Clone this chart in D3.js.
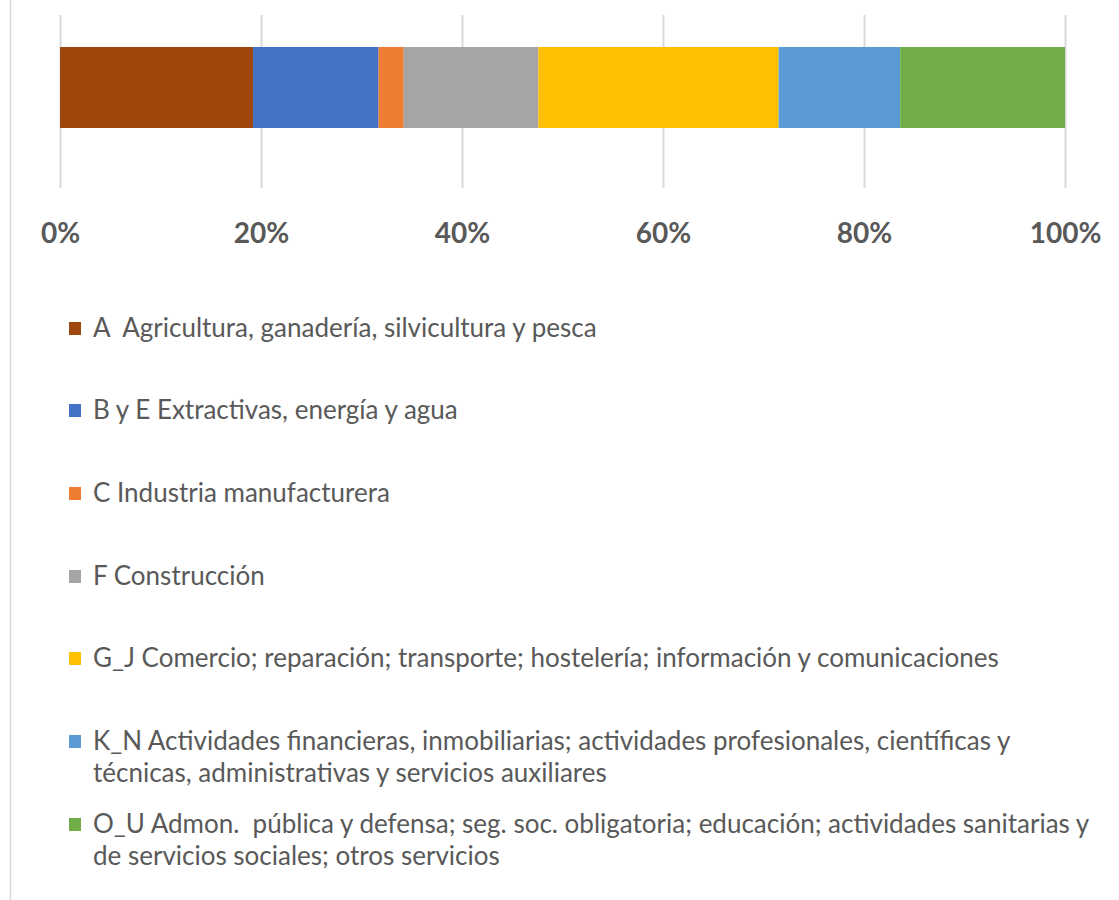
<!DOCTYPE html>
<html><head><meta charset="utf-8">
<script src="https://cdn.jsdelivr.net/npm/d3@7"></script>
<style>html,body{margin:0;padding:0;background:#fff;}</style>
</head><body>
<svg id="chart" width="1119" height="900"></svg>
<script>
const categories = [
  "A  Agricultura, ganadería, silvicultura y pesca",
  "B y E Extractivas, energía y agua",
  "C Industria manufacturera",
  "F Construcción",
  "G_J Comercio; reparación; transporte; hostelería; información y comunicaciones",
  "K_N Actividades financieras, inmobiliarias; actividades profesionales, científicas y técnicas, administrativas y servicios auxiliares",
  "O_U Admon.  pública y defensa; seg. soc. obligatoria; educación; actividades sanitarias y de servicios sociales; otros servicios"
];
const values = [19.2, 12.5, 2.5, 13.4, 23.9, 12.1, 16.4];
const colors = ["#9E480E", "#4472C4", "#ED7D31", "#A5A5A5", "#FFC000", "#5B9BD5", "#70AD47"];
const tickValues = [0, 0.2, 0.4, 0.6, 0.8, 1.0];

const svg = d3.select("#chart");
const total = d3.sum(values);
const x = d3.scaleLinear().domain([0, 1]).range([60, 1065]);

// left border
svg.append("line").attr("x1", 10.5).attr("x2", 10.5).attr("y1", 0).attr("y2", 900)
  .attr("stroke", "#D9D9D9").attr("stroke-width", 1.5);

// gridlines
svg.append("g").selectAll("line").data(tickValues).join("line")
  .attr("x1", d => Math.round(x(d)) + 0.5).attr("x2", d => Math.round(x(d)) + 0.5)
  .attr("y1", 15).attr("y2", 188)
  .attr("stroke", "#D9D9D9").attr("stroke-width", 2);

// stacked bar
let cum = 0;
const segs = values.map((v, i) => { const s = {x0: cum / total, x1: (cum + v) / total, c: colors[i]}; cum += v; return s; });
svg.append("g").selectAll("rect").data(segs).join("rect")
  .attr("x", d => x(d.x0)).attr("width", d => x(d.x1) - x(d.x0))
  .attr("y", 47).attr("height", 81)
  .attr("fill", d => d.c);

// axis labels
const axis = d3.axisBottom(x).tickValues(tickValues).tickFormat(d3.format(".0%")).tickSize(0).tickPadding(0);
const ag = svg.append("g").attr("transform", "translate(0,233)").call(axis);
ag.select(".domain").remove();
ag.selectAll("text").attr("fill", "#595959").attr("font-family", "Lato, sans-serif")
  .attr("font-weight", "bold").attr("font-size", 28).attr("dy", "0.35em");

// legend
const rowY = [328, 410, 493, 576, 658, 741, 824];
const lineH = 32;
const maxW = 1008;
const leg = svg.append("g");
categories.forEach((c, i) => {
  leg.append("rect").attr("x", 69).attr("y", rowY[i] - 6).attr("width", 12).attr("height", 13).attr("fill", colors[i]);
  const t = leg.append("text").attr("x", 93).attr("y", rowY[i]).attr("dy", "0.35em")
    .attr("font-family", "Lato, sans-serif").attr("font-size", 26).attr("fill", "#595959")
    .attr("xml:space", "preserve").style("white-space", "pre");
  const words = c.split(" ");
  let line = [];
  let ts = t.append("tspan").attr("x", 93);
  words.forEach(w => {
    line.push(w);
    ts.text(line.join(" "));
    if (ts.node().getComputedTextLength() > maxW && line.length > 1) {
      line.pop();
      ts.text(line.join(" "));
      line = [w];
      ts = t.append("tspan").attr("x", 93).attr("dy", lineH).text(w);
    }
  });
});
</script>
</body></html>
